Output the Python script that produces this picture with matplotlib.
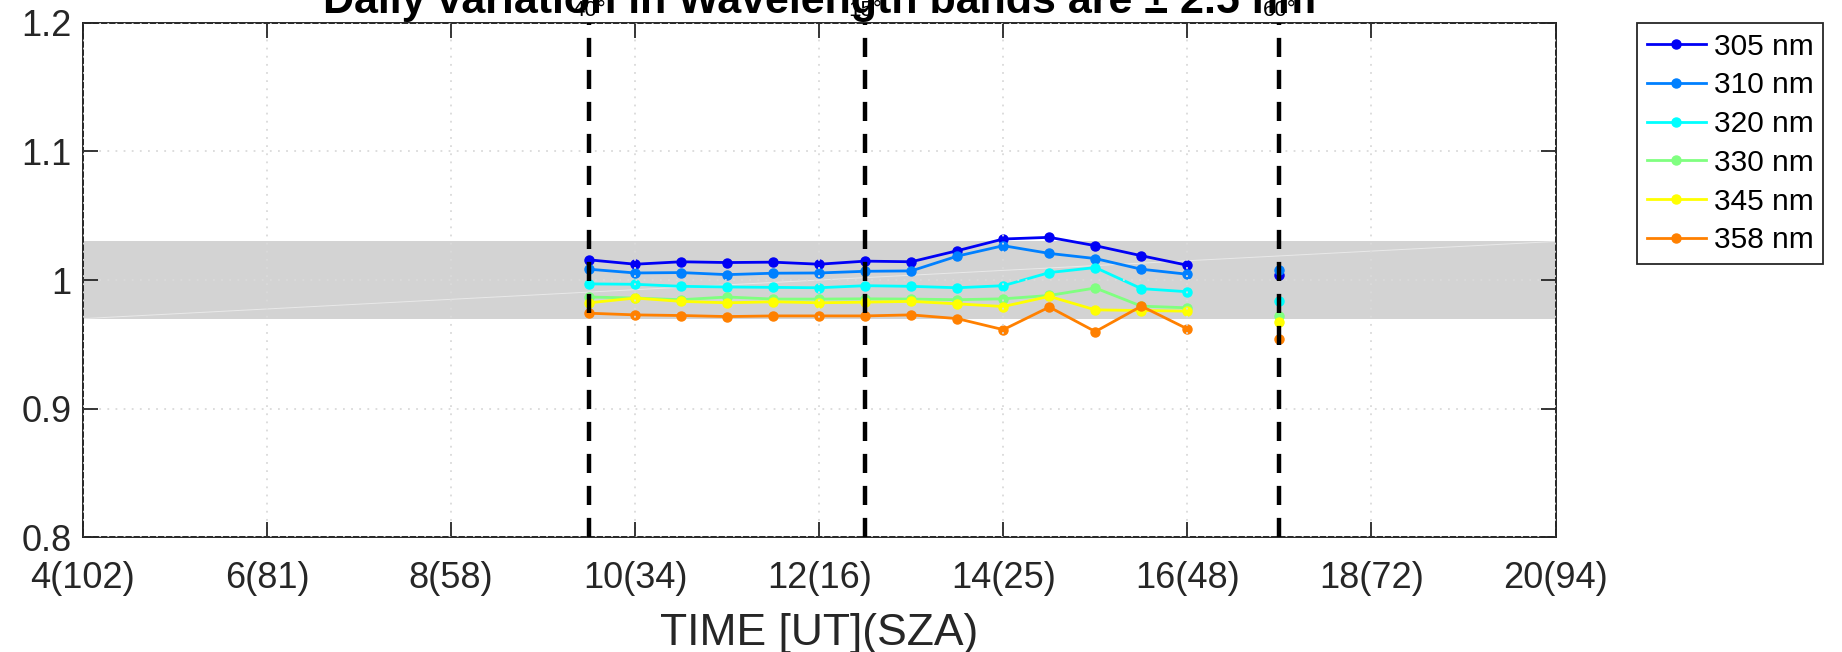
import numpy as np
import matplotlib
matplotlib.use("Agg")
import matplotlib.pyplot as plt

plt.rcParams['font.family'] = ['Liberation Sans', 'DejaVu Sans']

# time of day [UT] for the daily series
times = [9.5, 10, 10.5, 11, 11.5, 12, 12.5, 13, 13.5, 14, 14.5, 15, 15.5, 16]
late_time = 17.0

labels = ["305 nm", "310 nm", "320 nm", "330 nm", "345 nm", "358 nm"]
colors = ["#0000f5", "#0080ff", "#00ffff", "#80ff80", "#ffff00", "#ff8000"]

v305 = [1.0157, 1.0123, 1.0142, 1.0136, 1.0139, 1.0123, 1.0147, 1.0142, 1.0228, 1.0319, 1.0332, 1.0267, 1.0189, 1.0115]
v310 = [1.0084, 1.0055, 1.0058, 1.0042, 1.0053, 1.0055, 1.0068, 1.0071, 1.0186, 1.0267, 1.0207, 1.0167, 1.0084, 1.0045]
v320 = [0.9970, 0.9967, 0.9951, 0.9946, 0.9943, 0.9940, 0.9956, 0.9951, 0.9940, 0.9956, 1.0058, 1.0097, 0.9933, 0.9909]
v330 = [0.9868, 0.9860, 0.9847, 0.9868, 0.9852, 0.9852, 0.9854, 0.9852, 0.9847, 0.9854, 0.9880, 0.9938, 0.9797, 0.9784]
v345 = [0.9823, 0.9860, 0.9834, 0.9823, 0.9831, 0.9823, 0.9828, 0.9834, 0.9815, 0.9794, 0.9873, 0.9768, 0.9763, 0.9758]
v358 = [0.9742, 0.9729, 0.9724, 0.9716, 0.9721, 0.9721, 0.9721, 0.9729, 0.9700, 0.9614, 0.9790, 0.9599, 0.9797, 0.9620]
series = [v305, v310, v320, v330, v345, v358]

# single late measurement at 17 UT
late_vals = [1.0042, 1.0080, 0.9840, 0.9720, 0.9670, 0.9540]

# SZA markers
sza_times = [9.5, 12.5, 17.0]
sza_labels = ["40°", "15°", "60°"]

xticks = [4, 6, 8, 10, 12, 14, 16, 18, 20]
xticklabels = ["4(102)", "6(81)", "8(58)", "10(34)", "12(16)", "14(25)", "16(48)", "18(72)", "20(94)"]
yticks = [0.8, 0.9, 1.0, 1.1, 1.2]
yticklabels = ["0.8", "0.9", "1", "1.1", "1.2"]

band_lo, band_hi = 0.97, 1.03

fig = plt.figure(figsize=(18.42, 6.52), dpi=100)
ax = fig.add_axes([0.0450, 0.176, 0.7995, 0.789])

ax.axhspan(band_lo, band_hi, color="#d3d3d3", lw=0, zorder=0.5)
ax.plot([xticks[0], xticks[-1]], [band_lo, band_hi], color="white", lw=0.7, alpha=0.5, zorder=0.6)

for vals, lv, c, lab in zip(series, late_vals, colors, labels):
    ax.plot(times, vals, "-o", color=c, lw=2.0, ms=6.5, label=lab, zorder=2)
    ax.plot([late_time], [lv], "o", color=c, ms=6.5, zorder=2)

for t, s in zip(sza_times, sza_labels):
    ax.axvline(t, color="black", lw=3.2, dashes=(4.3, 2.9), zorder=4)
    ax.annotate(s, (t, 1.2), xytext=(0, 1.5), textcoords="offset points",
                ha="center", va="bottom", fontsize=16, annotation_clip=False)

ax.set_xlim(4, 20)
ax.set_ylim(0.8, 1.2)
ax.set_xticks(xticks)
ax.set_xticklabels(xticklabels)
ax.set_yticks(yticks)
ax.set_yticklabels(yticklabels)
ax.tick_params(direction="in", length=11, width=1.3, labelsize=26, top=True, right=True,
               color="#262626", labelcolor="#262626")
ax.tick_params(axis="x", pad=17)
ax.tick_params(axis="y", pad=8)
for sp in ax.spines.values():
    sp.set_color("#262626")
    sp.set_linewidth(1.4)

ax.set_axisbelow(False)
ax.grid(True, color="#dadada", lw=1.3, dashes=(1, 3.5), zorder=3)

ax.set_xlabel("TIME [UT](SZA)", fontsize=32, color="#262626")
ax.xaxis.label.set_va("baseline")
ax.xaxis.set_label_coords(0.5, -0.209)

fig.text(0.4447, 0.980, "Daily variation in Wavelength bands are \u00b1 2.5 nm",
         ha="center", va="baseline", fontsize=31, fontweight="bold", zorder=-1)

leg = fig.legend(loc="upper left", bbox_to_anchor=(1637 / 1842, 1 - 23 / 652), fontsize=21.5,
                 frameon=True, fancybox=False, framealpha=1, edgecolor="#262626",
                 handlelength=1.98, handletextpad=0.27, labelspacing=0.36, borderpad=0.32,
                 borderaxespad=0)
leg.get_frame().set_linewidth(1.3)

fig.savefig("out.png", dpi=100)
